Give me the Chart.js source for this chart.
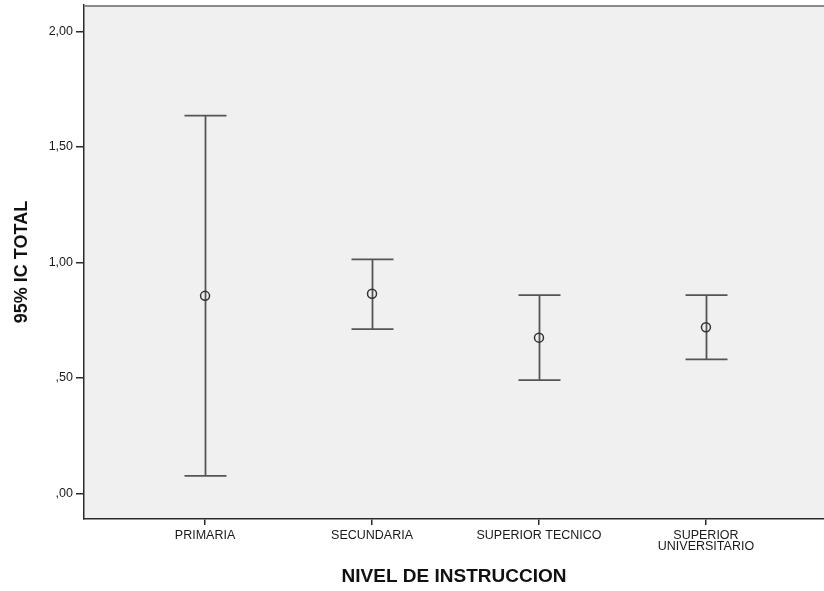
<!DOCTYPE html>
<html>
<head>
<meta charset="utf-8">
<style>
  html, body { margin: 0; padding: 0; background: #ffffff; overflow: hidden; }
  #wrap { width: 824px; height: 591px; position: relative; }
</style>
<script src="https://cdn.jsdelivr.net/npm/chart.js@4/dist/chart.umd.min.js"></script>
</head>
<body>
<div id="wrap"><canvas id="c" width="824" height="591"></canvas></div>
<script>
// Education levels and the 95% confidence interval of TOTAL for each
const categories = [['PRIMARIA'], ['SECUNDARIA'], ['SUPERIOR TECNICO'], ['SUPERIOR', 'UNIVERSITARIO']];
const means = [0.855, 0.864, 0.674, 0.719];
const lower = [0.076, 0.711, 0.490, 0.580];
const upper = [1.635, 1.013, 0.858, 0.858];
const yTicks = [0, 0.5, 1.0, 1.5, 2.0];

const ink = '#2b2b2b';
const barColor = '#555555';
const font = 'Arial, "Liberation Sans", sans-serif';

// Spanish-style decimal labels without a leading zero: ,00  ,50  1,00 ...
function fmt(v) {
  let s = v.toFixed(2).replace('.', ',');
  if (s.startsWith('0,')) s = s.slice(1);
  return s;
}

const frame = {
  id: 'frame',
  beforeDraw(chart) {
    const { ctx, chartArea: a } = chart;
    ctx.save();
    ctx.fillStyle = '#f0f0f0';
    ctx.fillRect(a.left, a.top, a.right - a.left, a.bottom - a.top);
    ctx.restore();
  },
  afterDraw(chart) {
    const { ctx, chartArea: a } = chart;
    ctx.save();
    ctx.strokeStyle = '#8a8a8a';
    ctx.lineWidth = 2;
    ctx.beginPath();
    ctx.moveTo(a.left, a.top + 1);
    ctx.lineTo(a.right, a.top + 1);
    ctx.stroke();
    ctx.restore();
  }
};

// Whiskers with end caps, positioned through the chart scales
const errorBars = {
  id: 'errorBars',
  beforeDatasetsDraw(chart) {
    const { ctx, scales: { x, y } } = chart;
    const cap = 21;
    ctx.save();
    ctx.strokeStyle = barColor;
    ctx.lineWidth = 1.8;
    for (let i = 0; i < means.length; i++) {
      const px = Math.round(x.getPixelForValue(i)) + 0.5;
      const yl = y.getPixelForValue(lower[i]);
      const yh = y.getPixelForValue(upper[i]);
      ctx.beginPath();
      ctx.moveTo(px, yl);
      ctx.lineTo(px, yh);
      ctx.moveTo(px - cap, yh);
      ctx.lineTo(px + cap, yh);
      ctx.moveTo(px - cap, yl);
      ctx.lineTo(px + cap, yl);
      ctx.stroke();
    }
    ctx.restore();
  }
};

new Chart(document.getElementById('c'), {
  type: 'scatter',
  data: {
    datasets: [{
      data: means.map((m, i) => ({ x: i, y: m })),
      pointStyle: 'circle',
      pointRadius: 4.5,
      pointHoverRadius: 4.5,
      borderColor: '#333333',
      borderWidth: 1.5,
      backgroundColor: 'rgba(0,0,0,0)'
    }]
  },
  options: {
    responsive: false,
    animation: false,
    events: [],
    layout: { autoPadding: false, padding: { top: 5, right: 0, bottom: 0, left: 0 } },
    plugins: { legend: { display: false }, tooltip: { enabled: false } },
    scales: {
      x: {
        type: 'linear',
        min: -0.725,
        max: 3.707,
        afterBuildTicks(s) { s.ticks = categories.map((_, i) => ({ value: i })); },
        afterFit(s) { s.height = 72; },
        grid: { drawOnChartArea: false, drawTicks: true, tickLength: 6, color: ink, lineWidth: 1.5 },
        border: { color: ink, width: 1.5 },
        ticks: {
          autoSkip: false,
          maxRotation: 0,
          padding: 5,
          color: '#1a1a1a',
          font: { family: font, size: 12.5, lineHeight: 0.88 },
          callback: (v) => categories[v]
        },
        title: {
          display: true,
          text: 'NIVEL DE INSTRUCCION',
          color: '#111',
          font: { family: font, size: 19, weight: 'bold' },
          padding: { top: 0, bottom: 3 }
        }
      },
      y: {
        min: -0.111,
        max: 2.114,
        afterBuildTicks(s) { s.ticks = yTicks.map(v => ({ value: v })); },
        afterFit(s) {
          s.width = 84;
          // end labels sit well inside the axis, so no extra room is needed for them
          s.paddingTop = 0;
          s.paddingBottom = 0;
        },
        grid: { drawOnChartArea: false, drawTicks: true, tickLength: 8, color: ink, lineWidth: 1.5 },
        border: { color: ink, width: 1.5 },
        ticks: {
          padding: 3,
          color: '#1a1a1a',
          font: { family: font, size: 12.5 },
          callback: (v) => fmt(v)
        },
        title: {
          display: true,
          text: '95% IC TOTAL',
          color: '#111',
          font: { family: font, size: 18, weight: 'bold' },
          padding: { top: 11, bottom: 0 }
        }
      }
    }
  },
  plugins: [frame, errorBars]
});
</script>
</body>
</html>
